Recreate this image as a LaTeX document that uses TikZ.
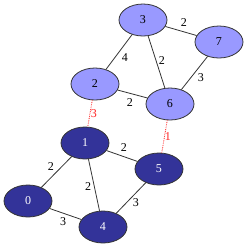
\documentclass[tikz,border=0pt]{standalone}
\usepackage{fontspec}
\setmainfont{Liberation Serif}
\usetikzlibrary{shapes.geometric}
\definecolor{GraphLight}{HTML}{9999FF}
\definecolor{GraphDark}{HTML}{333399}
\definecolor{GraphLine}{HTML}{333333}
\definecolor{GraphCut}{HTML}{FF2020}

\begin{document}
\begin{tikzpicture}[x=1pt,y=-1pt]
    \tikzset{v/.style={ellipse,draw=GraphLine,line width=0.8pt,minimum width=48pt,minimum height=32pt,inner sep=0pt,font=\fontsize{12}{14}\selectfont},
      up/.style={v,fill=GraphLight,text=black},
      low/.style={v,fill=GraphDark,text=white},
      e/.style={draw=GraphLine,line width=0.8pt},
      cut/.style={draw=GraphCut,densely dotted,line width=0.8pt},
      w/.style={font=\fontsize{12}{14}\selectfont,inner sep=0pt}}
    \useasboundingbox (0,0) rectangle (250,247);
    \node[up] (n3) at (143,20) {3};
    \node[up] (n7) at (219,42) {7};
    \node[up] (n2) at (95,84) {2};
    \node[up] (n6) at (170,104) {6};
    \node[low] (n1) at (85,143) {1};
    \node[low] (n5) at (159,169) {5};
    \node[low] (n0) at (28,201) {0};
    \node[low] (n4) at (103,227) {4};
    % upper part
    \draw[e] (n3) -- (n7);
    \draw[e] (n3) -- (n2);
    \draw[e] (n3) -- (n6);
    \draw[e] (n7) -- (n6);
    \draw[e] (n2) -- (n6);
    % lower part
    \draw[e] (n1) -- (n0);
    \draw[e] (n1) -- (n5);
    \draw[e] (n1) -- (n4);
    \draw[e] (n0) -- (n4);
    \draw[e] (n5) -- (n4);
    % links between the two parts
    \draw[cut] (n2) -- (n1);
    \draw[cut] (n6) -- (n5);
    % weights
    \node[w] (w37) at (184,23) {2};
    \node[w] (w32) at (125,58) {4};
    \node[w] (w36) at (162,61) {2};
    \node[w] (w76) at (201,78) {3};
    \node[w] (w26) at (130,103) {2};
    \node[w] (w10) at (51,167) {2};
    \node[w] (w15) at (124,148) {2};
    \node[w] (w14) at (88,187) {2};
    \node[w] (w04) at (63,222) {3};
    \node[w] (w54) at (136,203) {3};
    \node[w,text=GraphCut] (w21) at (94,114) {3};
    \node[w,text=GraphCut] (w65) at (168,137) {1};
  \end{tikzpicture}
\end{document}
